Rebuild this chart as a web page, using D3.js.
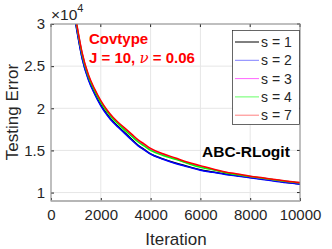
<!DOCTYPE html>
<html><head><meta charset="utf-8">
<script src="https://cdn.jsdelivr.net/npm/d3@7"></script>
<style>body{margin:0;background:#fff}svg{display:block;font-family:"Liberation Sans",Arial,sans-serif}</style>
</head><body>
<script>
const iterations = [700,800,900,1000,1100,1250,1500,1750,2000,2250,2500,2750,3000,3250,3500,3750,4000,4500,5000,5500,6000,6500,7000,7500,8000,8500,9000,9500,10000];
const s1 = [3.62,3.40,3.19,3.00,2.83,2.60,2.35,2.18,2.04,1.93,1.84,1.77,1.70,1.63,1.56,1.51,1.46,1.40,1.35,1.31,1.27,1.245,1.22,1.20,1.18,1.16,1.14,1.12,1.105];
const s2 = [3.61,3.39,3.18,2.99,2.82,2.59,2.34,2.17,2.03,1.92,1.83,1.76,1.69,1.62,1.555,1.505,1.455,1.395,1.345,1.305,1.265,1.24,1.215,1.195,1.175,1.155,1.135,1.115,1.10];
const s3 = [3.66,3.45,3.24,3.05,2.88,2.65,2.39,2.22,2.08,1.97,1.88,1.81,1.74,1.675,1.61,1.56,1.51,1.45,1.40,1.35,1.31,1.275,1.24,1.215,1.19,1.17,1.15,1.13,1.115];
const s4 = [3.65,3.44,3.23,3.04,2.87,2.64,2.38,2.21,2.07,1.96,1.87,1.80,1.73,1.665,1.60,1.55,1.50,1.44,1.395,1.345,1.30,1.27,1.235,1.21,1.19,1.17,1.15,1.13,1.115];
const s7 = [3.67,3.46,3.25,3.06,2.89,2.66,2.40,2.23,2.09,1.98,1.89,1.82,1.755,1.69,1.625,1.575,1.525,1.46,1.41,1.36,1.32,1.28,1.245,1.22,1.195,1.175,1.155,1.135,1.12];
const seriesNames = ["s = 1","s = 2","s = 3","s = 4","s = 7"];
const seriesValues = [s1,s2,s3,s4,s7];
const seriesColors = ["#000000","#0000ff","#ff00ff","#00ff00","#ff0000"];
const xTicks = [0,2000,4000,6000,8000,10000];
const yTicks = [1,1.5,2,2.5,3];

const W=332,H=249;
const svg=d3.select("body").append("svg").attr("width",W).attr("height",H);
const L=51,R=300,T=24,B=201;
const x=d3.scaleLinear().domain([0,10000]).range([L,R]);
const y=d3.scaleLinear().domain([0.9,3]).range([B,T]);
const axisCol="#262626";

// grid
svg.append("g").selectAll("line").data(xTicks).join("line")
  .attr("x1",d=>x(d)).attr("x2",d=>x(d)).attr("y1",T).attr("y2",B).attr("stroke","#e6e6e6").attr("stroke-width",1);
svg.append("g").selectAll("line").data(yTicks).join("line")
  .attr("x1",L).attr("x2",R).attr("y1",d=>y(d)).attr("y2",d=>y(d)).attr("stroke","#e6e6e6").attr("stroke-width",1);

// curves
svg.append("clipPath").attr("id","clip").append("rect").attr("x",L).attr("y",T).attr("width",R-L).attr("height",B-T);
const line=d3.line().x((d,i)=>x(iterations[i])).y(d=>y(d)).curve(d3.curveMonotoneX);
const g=svg.append("g").attr("clip-path","url(#clip)");
seriesValues.forEach((vals,k)=>{
  g.append("path").attr("d",line(vals)).attr("fill","none").attr("stroke",seriesColors[k]).attr("stroke-width",1.5);
});

// axes
const xb=d3.axisBottom(x).tickValues(xTicks).tickSize(-3).tickPadding(8).tickFormat(d3.format("d"));
const yl=d3.axisLeft(y).tickValues(yTicks).tickSize(-3).tickPadding(6).tickFormat(d3.format("~g"));
const ga=svg.append("g").attr("transform",`translate(0,${B})`).call(xb);
const gl=svg.append("g").attr("transform",`translate(${L},0)`).call(yl);
[ga,gl].forEach(a=>{a.select(".domain").remove();a.selectAll("line").attr("stroke",axisCol);a.selectAll("text").attr("fill",axisCol).style("font-size","15px").style("font-family","Liberation Sans, Arial, sans-serif");});
svg.append("g").selectAll("line").data(xTicks).join("line").attr("x1",d=>x(d)).attr("x2",d=>x(d)).attr("y1",T).attr("y2",T+3).attr("stroke",axisCol);
svg.append("g").selectAll("line").data(yTicks).join("line").attr("x1",R-3).attr("x2",R).attr("y1",d=>y(d)).attr("y2",d=>y(d)).attr("stroke",axisCol);
svg.append("rect").attr("x",L).attr("y",T).attr("width",R-L).attr("height",B-T).attr("fill","none").attr("stroke","#8c8c8c").attr("stroke-width",1);
svg.append("line").attr("x1",L).attr("x2",R).attr("y1",B).attr("y2",B).attr("stroke","#b0b0b0").attr("stroke-width",1.5);

// exponent
const ex=svg.append("text").attr("x",51).attr("y",20).attr("fill",axisCol).style("font-size","15.5px");
ex.append("tspan").text("\u00d710");
ex.append("tspan").attr("dy",-8).style("font-size","11px").text("4");

// axis labels
svg.append("text").attr("x",176).attr("y",245).attr("text-anchor","middle").attr("fill",axisCol).style("font-size","17px").text("Iteration");
svg.append("text").attr("transform",`translate(18,112) rotate(-90)`).attr("text-anchor","middle").attr("fill",axisCol).style("font-size","17px").text("Testing Error");

// annotations
svg.append("text").attr("x",89).attr("y",44).attr("fill","#ff0000").style("font-size","15px").style("font-weight","bold").text("Covtype");
const t2=svg.append("text").attr("x",89).attr("y",63).attr("fill","#ff0000").style("font-size","15px").style("font-weight","bold");
t2.append("tspan").text("J = 10, ");
t2.append("tspan").style("font-family","DejaVu Serif, serif").style("font-style","italic").style("font-weight","normal").text("\u03bd");
t2.append("tspan").text(" = 0.06");
svg.append("text").attr("x",202).attr("y",157).attr("fill","#000").style("font-size","15.5px").style("font-weight","bold").text("ABC-RLogit");

// legend
const lg=svg.append("g");
lg.append("rect").attr("x",232.5).attr("y",30.5).attr("width",67).attr("height",94).attr("fill","#fff").attr("stroke","#262626").attr("stroke-width",0.7);
const legColors=["#000000","#8080ff","#ff66ff","#66ff66","#ff8080"];
seriesNames.forEach((n,i)=>{
  const yy=42+i*18.3;
  lg.append("line").attr("x1",235).attr("x2",259).attr("y1",yy).attr("y2",yy).attr("stroke",legColors[i]).attr("stroke-width",1);
  lg.append("text").attr("x",261).attr("y",yy+5).attr("fill",axisCol).style("font-size","14px").text(n);
});
</script>
</body></html>
